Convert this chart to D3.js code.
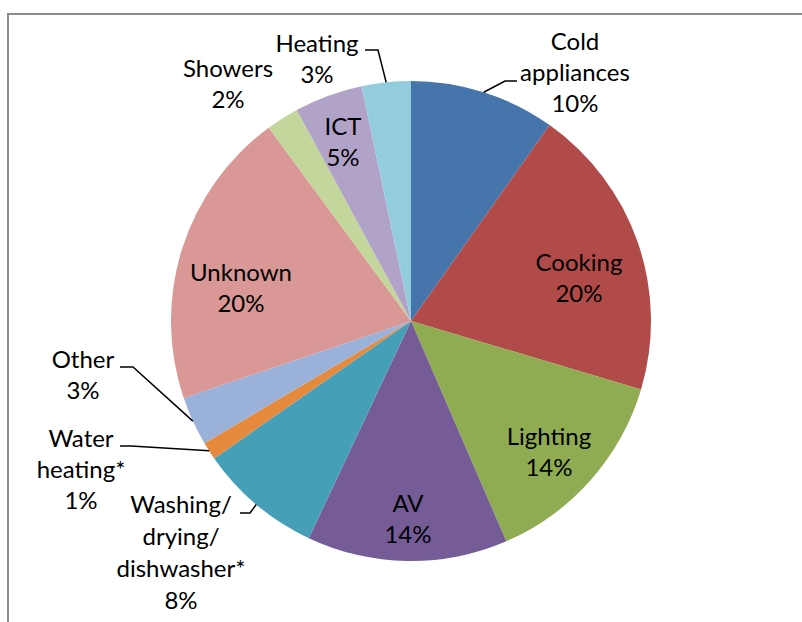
<!DOCTYPE html>
<html>
<head>
<meta charset="utf-8">
<script src="https://cdn.jsdelivr.net/npm/d3@7"></script>
<style>
  body { margin: 0; background: #fff; }
  text { font-family: Lato, "Open Sans", sans-serif; font-size: 24px; fill: #000; }
</style>
</head>
<body>
<script>
// categories, clockwise from 12 o'clock
var categories = ["Cold appliances", "Cooking", "Lighting", "AV", "Washing/ drying/ dishwasher*",
                  "Water heating*", "Other", "Unknown", "Showers", "ICT", "Heating"];
// share of electricity use (%)
var values = [9.8, 19.8, 13.9, 13.5, 8.3, 1.2, 3.3, 20.1, 2.2, 4.6, 3.3];
// label line breaks as in the chart
var labelLines = [["Cold", "appliances"], ["Cooking"], ["Lighting"], ["AV"], ["Washing/", "drying/", "dishwasher*"],
                  ["Water", "heating*"], ["Other"], ["Unknown"], ["Showers"], ["ICT"], ["Heating"]];
var colors = ["#4675ab", "#b04b49", "#8fac52", "#765c97", "#45a0b7", "#e5893c",
              "#9ab1da", "#d99795", "#c3d69b", "#b1a2c7", "#93cddd"];

var width = 802, height = 622;
var cx = 411, cy = 321, radius = 240, lineH = 31;

// label placement: x centre, first baseline, optional leader elbow [x0, x1, y]
var labelLayout = {
  "Cold appliances": {x: 575, y: 50, leader: [517, 505, 81]},
  "Cooking": {x: 579, y: 271},
  "Lighting": {x: 549, y: 445},
  "AV": {x: 408, y: 512},
  "Washing/ drying/ dishwasher*": {x: 181, y: 513, lineH: 32, leader: [240, 250, 513]},
  "Water heating*": {x: 81, y: 447, leader: [120, 131, 446]},
  "Other": {x: 83, y: 368, leader: [120, 133, 367]},
  "Unknown": {x: 241, y: 281},
  "Showers": {x: 228, y: 77},
  "ICT": {x: 343, y: 135},
  "Heating": {x: 317, y: 52, leader: [365, 378, 50]}
};

var svg = d3.select("body").append("svg")
    .attr("width", width)
    .attr("height", height);

// chart area frame (top and left edges visible)
svg.append("path")
    .attr("d", "M8,622 V14 H802")
    .attr("fill", "none")
    .attr("stroke", "#8c8c8c")
    .attr("stroke-width", 2);

var pie = d3.pie().sort(null).value(function (d) { return d; });
var arc = d3.arc().innerRadius(0).outerRadius(radius);
var arcs = pie(values);

var g = svg.append("g")
    .attr("transform", "translate(" + cx + "," + cy + ")");

g.selectAll("path.slice")
    .data(arcs)
    .enter()
    .append("path")
    .attr("class", "slice")
    .attr("d", arc)
    .attr("fill", function (d, i) { return colors[i]; });

// leader lines: from the slice edge at mid-angle to an elbow next to the label
arcs.forEach(function (d, i) {
    var lay = labelLayout[categories[i]];
    if (!lay.leader) return;
    var mid = (d.startAngle + d.endAngle) / 2;
    var ex = cx + radius * Math.sin(mid), ey = cy - radius * Math.cos(mid);
    var l = lay.leader;
    svg.append("path")
        .attr("d", "M" + l[0] + "," + l[2] + " H" + l[1] + " L" + ex + "," + ey)
        .attr("fill", "none")
        .attr("stroke", "#000")
        .attr("stroke-width", 1.5);
});

// labels
arcs.forEach(function (d, i) {
    var lay = labelLayout[categories[i]];
    var lines = labelLines[i].concat([Math.round(values[i]) + "%"]);
    var lh = lay.lineH || lineH;
    var t = svg.append("text")
        .attr("text-anchor", "middle");
    lines.forEach(function (s, k) {
        t.append("tspan")
            .attr("x", lay.x)
            .attr("y", lay.y + k * lh)
            .text(s);
    });
});
</script>
</body>
</html>
